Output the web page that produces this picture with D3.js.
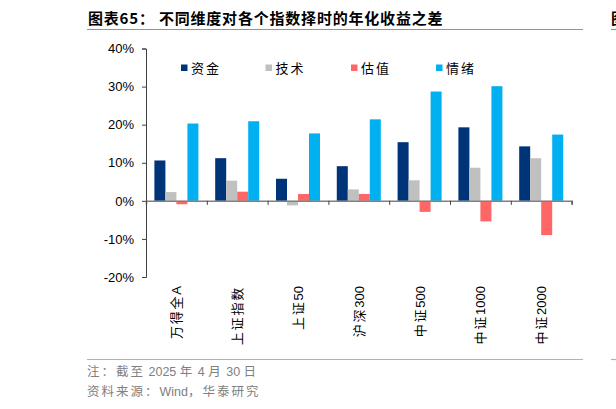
<!DOCTYPE html>
<html>
<head>
<meta charset="utf-8">
<script src="https://cdn.jsdelivr.net/npm/d3@7"></script>
<style>
  body { margin: 0; background: #fff; }
  text { font-family: "Liberation Sans", Arial, sans-serif; }
  .cjk { font-family: "Noto Sans CJK SC", sans-serif; }
</style>
</head>
<body>
<div id="chart"></div>
<script>
// data
const categories = ["万得全A", "上证指数", "上证50", "沪深300", "中证500", "中证1000", "中证2000"];
const seriesNames = ["资金", "技术", "估值", "情绪"];
const fund      = [10.6, 11.2, 5.8, 9.1, 15.4, 19.3, 14.3];
const technical = [2.3, 5.3, -1.2, 3.0, 5.4, 8.7, 11.2];
const valuation = [-0.9, 2.4, 1.8, 1.8, -2.9, -5.4, -9.0];
const sentiment = [20.3, 20.9, 17.7, 21.4, 28.7, 30.1, 17.4];
const yTicks = [-20, -10, 0, 10, 20, 30, 40];

const seriesValues = [fund, technical, valuation, sentiment];
const colors = ["#003478", "#c0c0c0", "#ff6666", "#00b0f0"];

const svg = d3.select("#chart")
  .append("svg")
  .attr("width", 616)
  .attr("height", 409);

const plot = { left: 146, right: 571.6, top: 48.5, bottom: 277 };

// split mixed text: CJK runs get spacing, latin/digits stay in Arial-like font
function mixedText(sel, str, spacing) {
  const runs = str.match(/[A-Za-z0-9 ]+|[^A-Za-z0-9 ]+/g);
  runs.forEach(r => {
    const latin = /^[A-Za-z0-9 ]+$/.test(r);
    sel.append("tspan")
      .style("font-family", latin ? '"Liberation Sans", Arial, sans-serif' : '"Noto Sans CJK SC", sans-serif')
      .style("letter-spacing", latin ? "0px" : spacing)
      .text(r);
  });
}

const x0 = d3.scaleBand()
  .domain(categories)
  .range([plot.left, plot.right])
  .paddingInner(0.276)
  .paddingOuter(0.138);

const x1 = d3.scaleBand()
  .domain(seriesNames)
  .range([0, x0.bandwidth()]);

const y = d3.scaleLinear()
  .domain([-20, 40])
  .range([plot.bottom, plot.top]);

const color = d3.scaleOrdinal().domain(seriesNames).range(colors);

// Title
svg.append("text")
  .attr("class", "cjk")
  .attr("x", 88)
  .attr("y", 24)
  .style("font-size", "15px")
  .style("font-weight", "bold")
  .style("letter-spacing", "0.8px")
  .style("fill", "#000")
  .text("图表65：  不同维度对各个指数择时的年化收益之差");

svg.append("line")
  .attr("x1", 87).attr("x2", 583)
  .attr("y1", 29.5).attr("y2", 29.5)
  .attr("stroke", "#8497b0").attr("stroke-width", 1.2);

// neighbouring panel edge
svg.append("text")
  .attr("class", "cjk")
  .attr("x", 611)
  .attr("y", 24)
  .style("font-size", "15px")
  .style("font-weight", "bold")
  .text("图");
svg.append("line")
  .attr("x1", 611).attr("x2", 616)
  .attr("y1", 29.5).attr("y2", 29.5)
  .attr("stroke", "#8497b0").attr("stroke-width", 1.2);

// Bars
const groups = svg.selectAll(".grp")
  .data(categories)
  .join("g")
  .attr("class", "grp")
  .attr("transform", d => `translate(${x0(d)},0)`);

groups.selectAll("rect")
  .data((d, i) => seriesNames.map((key, k) => ({ key, value: seriesValues[k][i] })))
  .join("rect")
  .attr("x", d => x1(d.key))
  .attr("y", d => y(Math.max(0, d.value)))
  .attr("width", x1.bandwidth())
  .attr("height", d => Math.abs(y(d.value) - y(0)))
  .attr("fill", d => color(d.key));

// Y axis
const yAxis = svg.append("g")
  .attr("transform", `translate(${plot.left},0)`)
  .call(d3.axisLeft(y).tickValues(yTicks).tickSize(4).tickPadding(8).tickFormat(d => d + "%"));
yAxis.select(".domain").attr("stroke", "#404040");
yAxis.selectAll(".tick line").attr("stroke", "#404040");
yAxis.selectAll(".tick text")
  .style("font-size", "13px")
  .style("fill", "#000");

// X axis at zero
const xAxis = svg.append("g")
  .attr("transform", `translate(0,${y(0)})`)
  .call(d3.axisBottom(d3.scaleLinear().domain([0, categories.length]).range([plot.left, plot.right]))
    .ticks(categories.length).tickSize(4).tickSizeOuter(4).tickFormat(""));
xAxis.select(".domain").attr("stroke", "#808080").attr("stroke-width", 1.5);
xAxis.selectAll(".tick line").attr("stroke", "#404040");

// Category labels
svg.append("g")
  .selectAll("text")
  .data(categories)
  .join("text")
  .attr("transform", d => `translate(${x0(d) + x0.bandwidth() / 2 + 5},286) rotate(-90)`)
  .attr("text-anchor", "end")
  .style("font-size", "13px")
  .style("fill", "#000")
  .each(function (d) { mixedText(d3.select(this), d, "1.8px"); });

// Legend
const legendX = [181, 265.5, 351, 436];
seriesNames.forEach((key, i) => {
  const g = svg.append("g").attr("transform", `translate(${legendX[i]},68)`);
  g.append("rect")
    .attr("x", 0).attr("y", -3.5)
    .attr("width", 6.5).attr("height", 6.5)
    .attr("fill", color(key));
  g.append("text")
    .attr("class", "cjk")
    .attr("x", 10)
    .attr("y", 5)
    .style("font-size", "13px")
    .style("letter-spacing", "2px")
    .style("fill", "#000")
    .text(key);
});

// Footer
svg.append("line")
  .attr("x1", 87).attr("x2", 583)
  .attr("y1", 359.5).attr("y2", 359.5)
  .attr("stroke", "#a6b4c8").attr("stroke-width", 1.2);
svg.append("line")
  .attr("x1", 611).attr("x2", 616)
  .attr("y1", 359.5).attr("y2", 359.5)
  .attr("stroke", "#a6b4c8").attr("stroke-width", 1.2);

const note = svg.append("text")
  .attr("x", 87).attr("y", 376)
  .style("font-size", "12.5px")
  .style("fill", "#808080");
mixedText(note, "注：截至 2025 年 4 月 30 日", "2px");

const source = svg.append("text")
  .attr("x", 87).attr("y", 396)
  .style("font-size", "12.5px")
  .style("fill", "#808080");
mixedText(source, "资料来源：Wind，华泰研究", "2px");
</script>
</body>
</html>
